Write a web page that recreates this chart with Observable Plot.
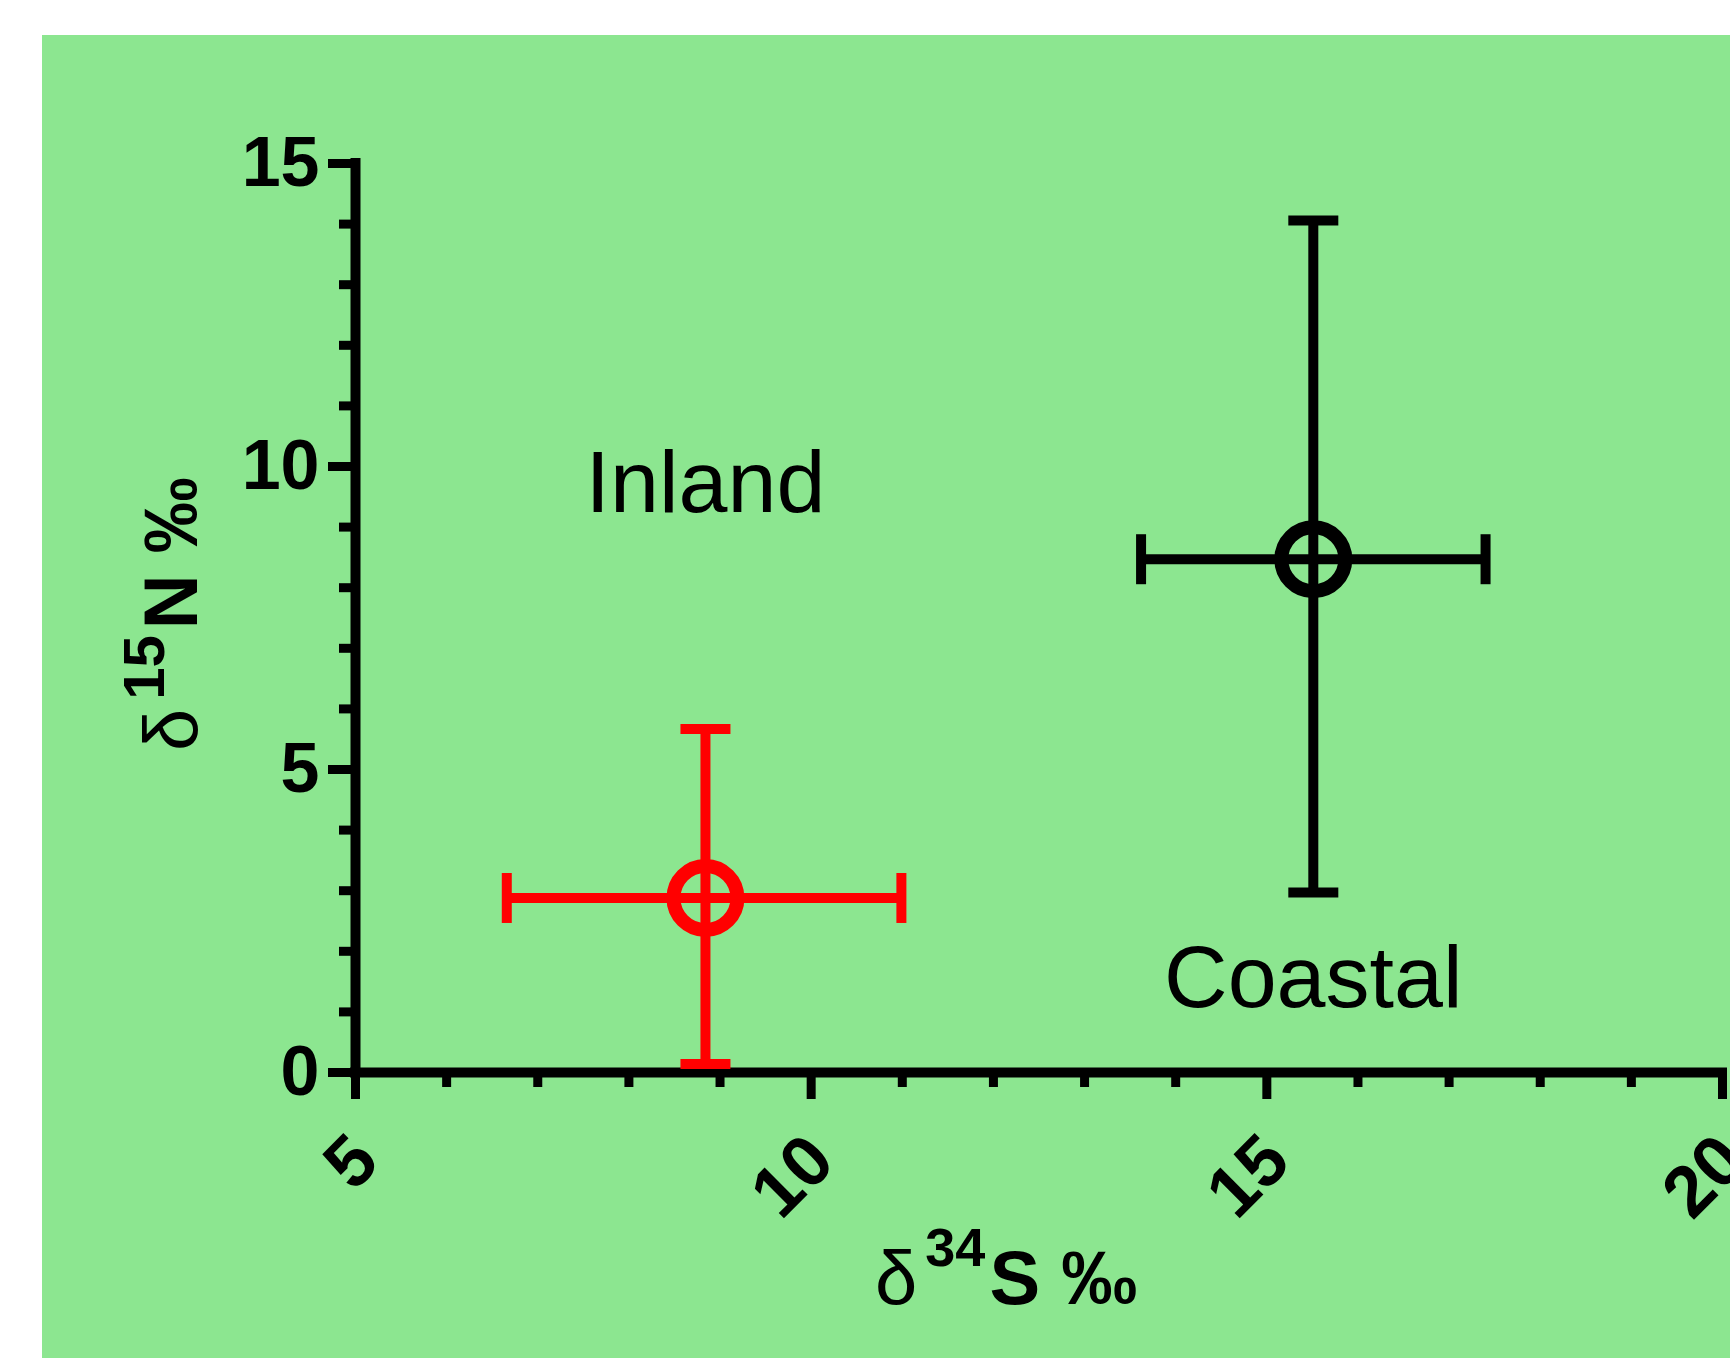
<!DOCTYPE html>
<html>
<head>
<meta charset="utf-8">
<script src="https://cdn.jsdelivr.net/npm/d3@7"></script>
<script src="https://cdn.jsdelivr.net/npm/@observablehq/plot@0.6"></script>
<style>
  html, body { margin: 0; padding: 0; background: #ffffff; width: 1730px; height: 1358px; overflow: hidden; }
  #chart { position: absolute; left: 42px; top: 35px; width: 1688px; height: 1323px; }
</style>
</head>
<body>
<div id="chart"></div>
<script>
// ---- data ----
const groups   = ["Inland", "Coastal"];
const colors   = ["#ff0000", "#000000"];
const s34      = [8.84, 15.51];   // mean δ34S
const s34Lo    = [6.66, 13.62];
const s34Hi    = [10.99, 17.40];
const n15      = [2.88, 8.47];    // mean δ15N
const n15Lo    = [0.14, 2.97];
const n15Hi    = [5.67, 14.06];
const labelX   = [8.84, 15.51];   // annotation anchors (data units)
const labelY   = [9.72, 1.55];

const xDomain  = [5, 20];
const yDomain  = [0, 15];
const xTicks   = [5, 10, 15, 20];
const xMinor   = [6, 7, 8, 9, 11, 12, 13, 14, 16, 17, 18, 19];
const yTicks   = [0, 5, 10, 15];
const yMinor   = [1, 2, 3, 4, 6, 7, 8, 9, 11, 12, 13, 14];

const data = groups.map((g, i) => ({
  group: g, color: colors[i],
  x: s34[i], xlo: s34Lo[i], xhi: s34Hi[i],
  y: n15[i], ylo: n15Lo[i], yhi: n15Hi[i],
  lx: labelX[i], ly: labelY[i]
}));

const FONT = "'Liberation Sans', Arial, Helvetica, sans-serif";
const BG = "#8ce690";

// error-bar caps as custom symbols
const capH = { draw(ctx) { ctx.moveTo(-25, -5); ctx.lineTo(25, -5); ctx.lineTo(25, 5); ctx.lineTo(-25, 5); ctx.closePath(); } };
const capV = { draw(ctx) { ctx.moveTo(-5, -25); ctx.lineTo(5, -25); ctx.lineTo(5, 25); ctx.lineTo(-5, 25); ctx.closePath(); } };

const chart = Plot.plot({
  width: 1688,
  height: 1323,
  marginLeft: 313,
  marginRight: 8,
  marginTop: 128,
  marginBottom: 286,
  style: { background: BG, fontFamily: FONT, overflow: "visible", maxWidth: "none" },
  x: { domain: xDomain },
  y: { domain: yDomain },
  marks: [
    // minor ticks
    Plot.axisX(xMinor, { tickSize: 15, strokeWidth: 9, fill: "none", label: null }),
    Plot.axisY(yMinor, { tickSize: 16, strokeWidth: 9, fill: "none", label: null }),
    // major ticks
    Plot.axisX(xTicks, { tickSize: 27, strokeWidth: 9, fill: "none", label: null }),
    // major x labels (rotated)
    Plot.axisX(xTicks, {
      tickSize: 0, tickRotate: -45, tickPadding: 76, dx: 10,
      textAnchor: "end", lineAnchor: "middle",
      fontSize: 72, fontWeight: "bold", fill: "#000", label: null,
      tickFormat: d3.format("d")
    }),
    Plot.axisY(yTicks, {
      tickSize: 27, strokeWidth: 9, tickPadding: 9,
      fontSize: 70, fontWeight: "bold", fill: "#000", label: null,
      tickFormat: d3.format("d")
    }),
    // axis lines
    Plot.ruleX([xDomain[0]], { y1: yDomain[0], y2: yDomain[1], strokeWidth: 10, strokeLinecap: "square" }),
    Plot.ruleY([yDomain[0]], { x1: xDomain[0], x2: xDomain[1], strokeWidth: 10, strokeLinecap: "square" }),
    // error bars
    Plot.ruleY(data, { y: "y", x1: "xlo", x2: "xhi", stroke: "color", strokeWidth: 10 }),
    Plot.ruleX(data, { x: "x", y1: "ylo", y2: "yhi", stroke: "color", strokeWidth: 10 }),
    Plot.dot(data, { x: "x", y: "yhi", symbol: capH, fill: "color", stroke: null }),
    Plot.dot(data, { x: "x", y: "ylo", symbol: capH, fill: "color", stroke: null }),
    Plot.dot(data, { x: "xlo", y: "y", symbol: capV, fill: "color", stroke: null }),
    Plot.dot(data, { x: "xhi", y: "y", symbol: capV, fill: "color", stroke: null }),
    // open circles
    Plot.dot(data, { x: "x", y: "y", r: 32, stroke: "color", strokeWidth: 14, fill: "none" }),
    // group annotations
    Plot.text(data, { x: "lx", y: "ly", text: "group", fontSize: 88, fill: "#000", fontFamily: FONT })
  ]
});

document.getElementById("chart").appendChild(chart);

// axis titles with superscripts
const sx = chart.scale("x"), sy = chart.scale("y");
const svg = d3.select(chart);
const x0 = sx.apply(xDomain[0]), y0 = sy.apply(yDomain[0]);

// x title: δ34S ‰
const xt = svg.append("text")
  .attr("x", x0 + 520)
  .attr("y", y0 + 232)
  .attr("font-family", FONT)
  .attr("fill", "#000")
  .attr("text-anchor", "start");
xt.append("tspan").attr("font-size", 76).attr("font-weight", "normal").text("δ");
xt.append("tspan").attr("font-size", 54).attr("font-weight", "bold").attr("dx", 8).attr("dy", -38).text("34");
xt.append("tspan").attr("font-size", 76).attr("font-weight", "bold").attr("dx", 4).attr("dy", 38).text("S ‰");

// y title: δ15N ‰ (rotated)
const yt = svg.append("text")
  .attr("transform", `translate(${x0 - 158},${y0 - 321}) rotate(-90)`)
  .attr("font-family", FONT)
  .attr("fill", "#000")
  .attr("text-anchor", "start");
yt.append("tspan").attr("font-size", 76).attr("font-weight", "normal").text("δ");
yt.append("tspan").attr("font-size", 58).attr("font-weight", "bold").attr("dx", 9).attr("dy", -33).text("15");
yt.append("tspan").attr("font-size", 76).attr("font-weight", "bold").attr("dx", 6).attr("dy", 33).text("N ‰");
</script>
</body>
</html>
